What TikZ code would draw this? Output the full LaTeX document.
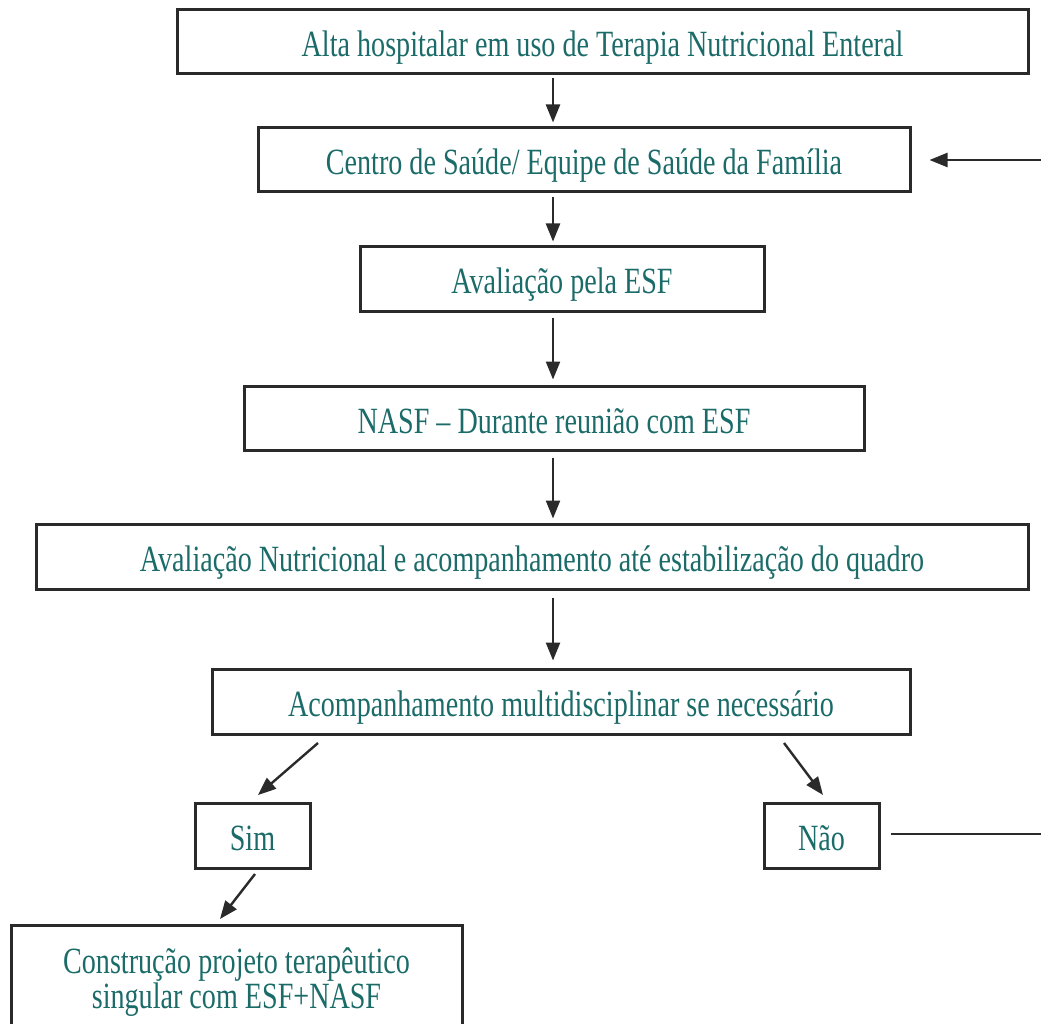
\documentclass[tikz,border=0pt]{standalone}
\usepackage{fontspec}
\setmainfont{Liberation Serif}[FakeStretch=0.76]
\usetikzlibrary{arrows.meta,calc}
\definecolor{txt}{HTML}{1B6B69}
\definecolor{bord}{HTML}{2A2A2A}
\begin{document}
\begin{tikzpicture}[x=1pt,y=-1pt,
  box/.style={draw=bord,line width=3pt,inner sep=0pt,text=txt,font=\fontsize{37}{35}\selectfont,align=center,text height=30pt,text depth=0pt},
  arr/.style={draw=bord,line width=2.4pt,-{Triangle[length=18pt,width=14pt]}},
  ln/.style={draw=bord,line width=2.4pt}]
\useasboundingbox (0,0) rectangle (1041,1024);
\path[clip] (0,0) rectangle (1041,1024);
\def\bx#1#2#3#4#5#6{\node[box,minimum width=#4-#2,minimum height=#5-#3] (#1) at ({(#2+#4)/2},{(#3+#5)/2}) {#6};}
\bx{a}{177}{10}{1028}{74}{Alta hospitalar em uso de Terapia Nutricional Enteral}
\bx{b}{258}{128}{910}{192}{Centro de Saúde/ Equipe de Saúde da Família}
\bx{c}{360}{247}{764}{311}{Avaliação pela ESF}
\bx{d}{244}{386}{864}{450}{NASF – Durante reunião com ESF}
\bx{e}{36}{524}{1028}{589}{Avaliação Nutricional e acompanhamento até estabilização do quadro}
\bx{f}{212}{669}{910}{734}{Acompanhamento multidisciplinar se necessário}
\bx{g}{195}{803}{310}{868}{Sim}
\bx{h}{764}{803}{879}{868}{Não}
\node[draw=bord,line width=3pt,minimum width=451,minimum height=115] (i) at (236.5,982.5) {};
\node[text=txt,font=\fontsize{37}{35}\selectfont,align=center,inner sep=0pt] (it) at (236.5,982) {Construção projeto terapêutico\\singular com ESF+NASF};
\coordinate (cx) at (553,0);
\draw[arr,shorten <=3pt,shorten >=4pt] (a.south -| cx) -- (b.north -| cx);
\draw[arr,shorten <=4pt,shorten >=4pt] (b.south -| cx) -- (c.north -| cx);
\draw[arr,shorten <=5pt,shorten >=5pt] (c.south -| cx) -- (d.north -| cx);
\draw[arr,shorten <=6pt,shorten >=4pt] (d.south -| cx) -- (e.north -| cx);
\draw[arr,shorten <=7pt,shorten >=7pt] (e.south -| cx) -- (f.north -| cx);
\coordinate (f1) at (318,743);
\coordinate (g1) at (258,795);
\coordinate (f2) at (784,743);
\coordinate (h1) at (823,795);
\coordinate (g2) at (255,874);
\coordinate (i1) at (220,919);
\draw[arr] (f1) -- (g1);
\draw[arr] (f2) -- (h1);
\draw[arr] (g2) -- (i1);
\coordinate (rn) at (1041,834);
\draw[ln,shorten <=10pt] (h.east |- rn) -- (rn);
\coordinate (rb) at (1041,160);
\draw[arr,shorten >=18pt] (rb) -- (b.east |- rb);
\end{tikzpicture}
\end{document}
